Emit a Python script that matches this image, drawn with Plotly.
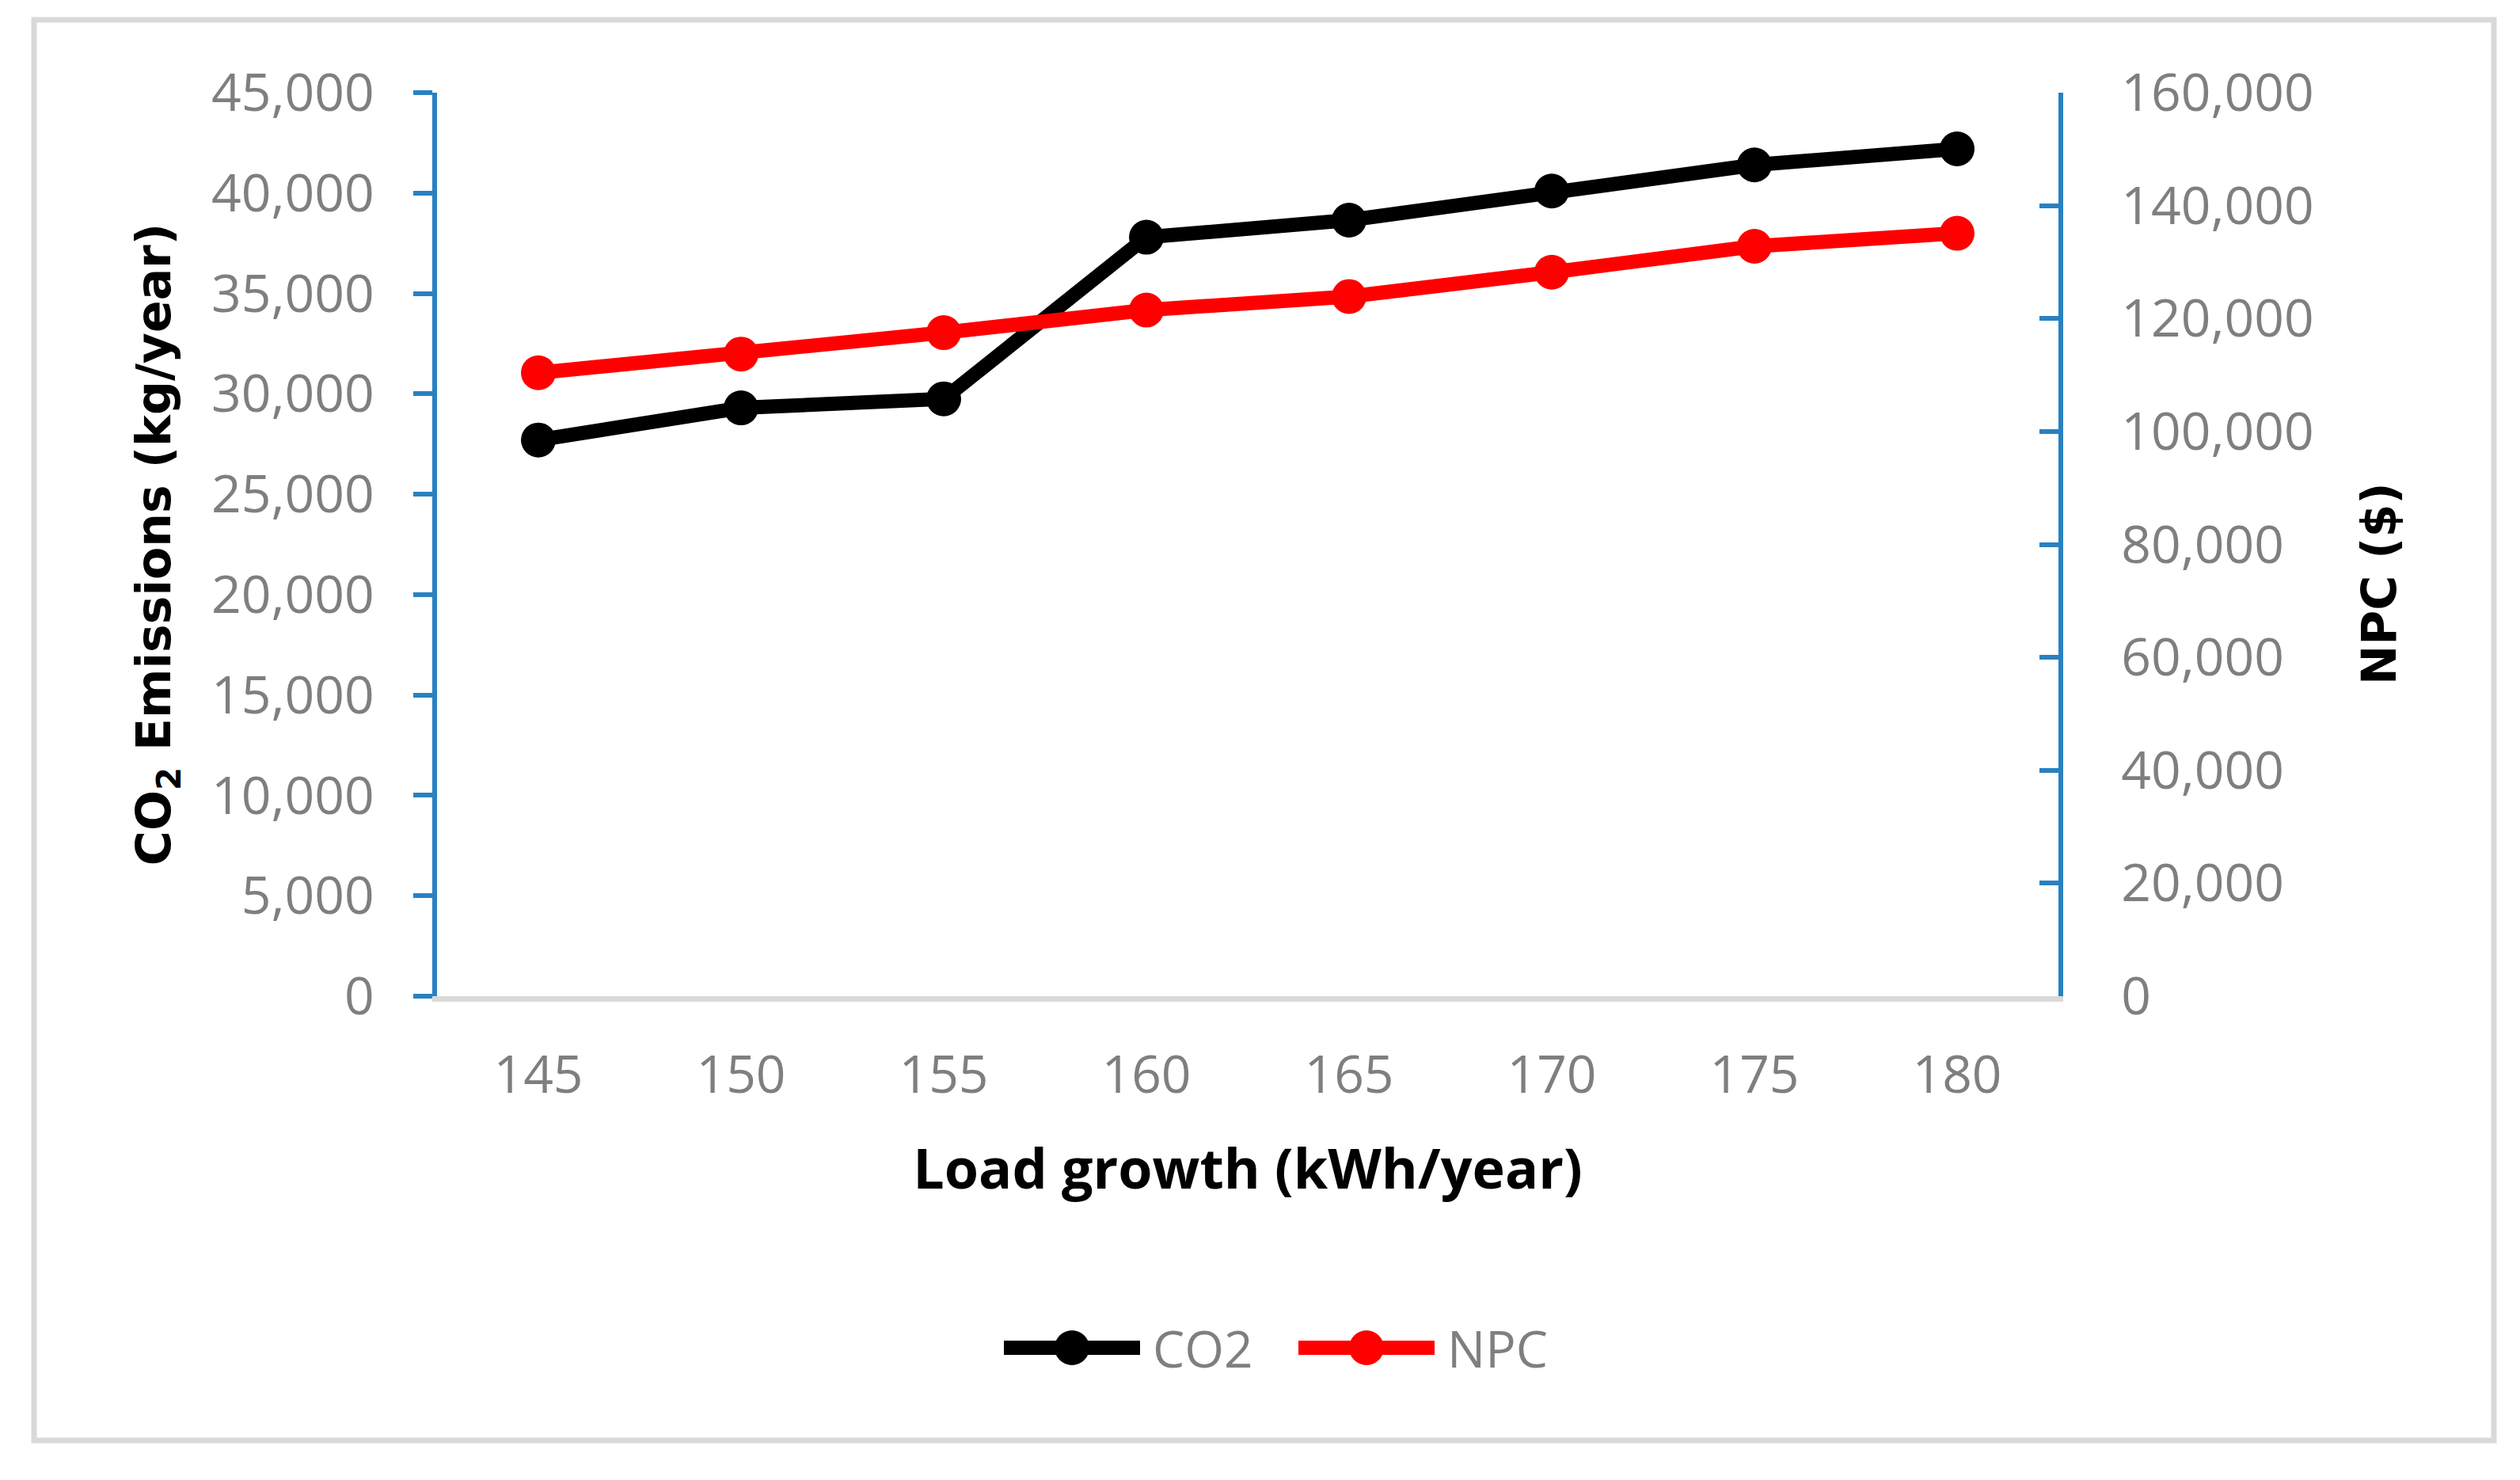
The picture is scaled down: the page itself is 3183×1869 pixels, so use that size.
import plotly.graph_objects as go

# ---- data ----
load_growth = ["145", "150", "155", "160", "165", "170", "175", "180"]
co2_values = [27700, 29300, 29750, 37800, 38650, 40100, 41400, 42200]
npc_values = [110400, 113700, 117500, 121500, 123900, 128200, 132800, 135100]
co2_ticks = [0, 5000, 10000, 15000, 20000, 25000, 30000, 35000, 40000, 45000]
npc_ticks = [0, 20000, 40000, 60000, 80000, 100000, 120000, 140000, 160000]

W, H = 3183, 1869
L, R, T, B = 552, 2600, 117, 1258   # plot area in pixels
pw, ph = R - L, B - T


def px(x):
    return (x - L) / pw


def py(y):
    return (B - y) / ph


AXIS_BLUE = "#2981C1"
TICK_GRAY = "#7F7F7F"
FONT = "Open Sans"
TITLE_FONT = "DejaVu Sans"
LW, MS = 18, 44

fig = go.Figure()
fig.add_trace(go.Scatter(
    x=load_growth, y=co2_values, name="CO2", mode="lines+markers",
    line=dict(color="#000000", width=LW), marker=dict(size=MS, color="#000000"),
    yaxis="y", showlegend=False))
fig.add_trace(go.Scatter(
    x=load_growth, y=npc_values, name="NPC", mode="lines+markers",
    line=dict(color="#FF0000", width=LW), marker=dict(size=MS, color="#FF0000"),
    yaxis="y2", showlegend=False))

fig.update_layout(
    width=W, height=H,
    margin=dict(l=L, r=W - R, t=T, b=H - B, pad=0),
    paper_bgcolor="white", plot_bgcolor="white",
    font=dict(family=FONT, size=66, color=TICK_GRAY),
    xaxis=dict(
        type="category", range=[-0.5, 7.5],
        showline=True, linecolor="#D9D9D9", linewidth=7,
        showgrid=False, zeroline=False, ticks="",
        tickfont=dict(family=FONT, size=66, color=TICK_GRAY),
        ticklabelstandoff=36,
        title=dict(text="Load growth (kWh/year)",
                   font=dict(family=FONT, size=70, color="#000000", weight="bold"),
                   standoff=56),
    ),
    yaxis=dict(
        range=[0, 45000], tickvals=co2_ticks, tickformat=",d",
        showline=True, linecolor=AXIS_BLUE, linewidth=6,
        ticks="outside", ticklen=24, tickwidth=6, tickcolor=AXIS_BLUE,
        showgrid=False, zeroline=False,
        tickfont=dict(family=FONT, size=66, color=TICK_GRAY),
        ticklabelstandoff=36,
        title=dict(text="CO<sub>2</sub> Emissions (kg/year)",
                   font=dict(family=TITLE_FONT, size=60, color="#000000", weight="bold"),
                   standoff=34),
    ),
    yaxis2=dict(
        range=[0, 160000], tickvals=npc_ticks, tickformat=",d",
        overlaying="y", side="right",
        showline=True, linecolor=AXIS_BLUE, linewidth=6,
        ticks="inside", ticklen=24, tickwidth=6, tickcolor=AXIS_BLUE,
        showgrid=False, zeroline=False,
        tickfont=dict(family=FONT, size=66, color=TICK_GRAY),
        ticklabelstandoff=60,
    ),
    showlegend=False,
)

shapes = []
# outer chart border
shapes.append(dict(type="rect", xref="paper", yref="paper",
                   x0=px(43), x1=px(3150), y0=py(1819), y1=py(25),
                   line=dict(color="#D9D9D9", width=7), fillcolor="rgba(0,0,0,0)",
                   layer="below"))

# manual legend
legend_items = [("CO2", "#000000", 1354, 1454), ("NPC", "#FF0000", 1726, 1826)]
ly = py(1702)
annotations = []
for name, color, cx, tx in legend_items:
    shapes.append(dict(type="line", xref="paper", yref="paper",
                       xsizemode="pixel", ysizemode="pixel",
                       xanchor=px(cx), yanchor=ly, x0=-86, x1=86, y0=0, y1=0,
                       line=dict(color=color, width=LW)))
    shapes.append(dict(type="circle", xref="paper", yref="paper",
                       xsizemode="pixel", ysizemode="pixel",
                       xanchor=px(cx), yanchor=ly, x0=-MS / 2, x1=MS / 2,
                       y0=-MS / 2, y1=MS / 2,
                       line=dict(color=color, width=0), fillcolor=color))
    annotations.append(dict(text=name, xref="paper", yref="paper",
                            x=px(tx), y=ly, xanchor="left", yanchor="middle",
                            showarrow=False,
                            font=dict(family=FONT, size=64, color=TICK_GRAY)))

# right axis title
annotations.append(dict(text="NPC ($)", xref="paper", yref="paper",
                        x=px(3005), y=py(737), xanchor="center", yanchor="middle",
                        textangle=-90, showarrow=False,
                        font=dict(family=TITLE_FONT, size=60, color="#000000", weight="bold")))

fig.update_layout(shapes=shapes, annotations=annotations)

fig.write_html("out.html", config={"displayModeBar": False},
               post_script="document.body.style.margin='0';")
